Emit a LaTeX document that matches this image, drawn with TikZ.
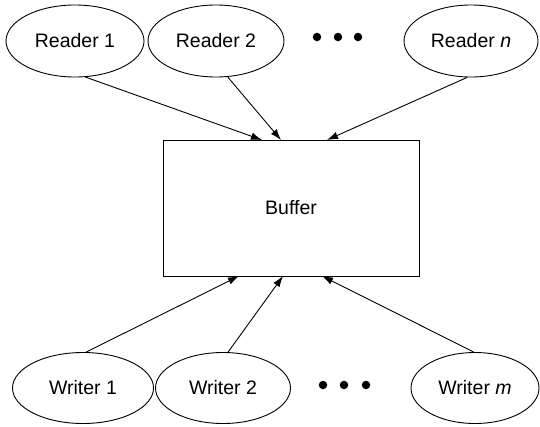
\documentclass[tikz,border=0pt]{standalone}
\usepackage{fontspec}
\setmainfont{Liberation Sans}
\usetikzlibrary{shapes.geometric,arrows.meta}
\begin{document}
\begin{tikzpicture}[x=1pt,y=-1pt,
  proc/.style={draw,ellipse,line width=0.9pt,inner sep=0pt,minimum height=72pt,font=\fontsize{19.5}{22}\selectfont},
  bufbox/.style={draw,rectangle,line width=0.9pt,inner sep=0pt,minimum width=256pt,minimum height=136pt,font=\fontsize{19.5}{22}\selectfont},
  dot/.style={circle,fill=black,inner sep=0pt,minimum size=8.5pt},
  conn/.style={line width=0.9pt,-{Latex[length=11pt,width=7.5pt]}}]
\useasboundingbox (0,0) rectangle (540,426);
\node[proc,minimum width=138pt] (r1) at (75,41) {Reader 1};
\node[proc,minimum width=136pt] (r2) at (216,41) {Reader 2};
\node[proc,minimum width=134pt] (rn) at (471,41) {Reader \textit{n}};
\node[dot] (rd1) at (317,37) {};
\node[dot] (rd2) at (338,37) {};
\node[dot] (rd3) at (358,37) {};
\node[bufbox] (buf) at (291,208) {Buffer};
\node[proc,minimum width=141pt,minimum height=71pt] (w1) at (83,388) {Writer 1};
\node[proc,minimum width=135pt,minimum height=71pt] (w2) at (223,388) {Writer 2};
\node[proc,minimum width=128pt,minimum height=71pt] (wm) at (475,388) {Writer \textit{m}};
\node[dot] (wd1) at (323,385) {};
\node[dot] (wd2) at (344,385) {};
\node[dot] (wd3) at (366,385) {};
\coordinate (t1) at (262,140);
\coordinate (t2) at (281,140);
\coordinate (tn) at (327,140);
\coordinate (b1) at (239,276);
\coordinate (b2) at (283,276);
\coordinate (bm) at (322,276);
\draw[conn] (r1.-74) -- (t1);
\draw[conn] (r2.-72) -- (t2);
\draw[conn] (rn.-96) -- (tn);
\draw[conn] (w1.85) -- (b1);
\draw[conn] (w2.82) -- (b2);
\draw[conn] (wm.92) -- (bm);
\end{tikzpicture}
\end{document}
